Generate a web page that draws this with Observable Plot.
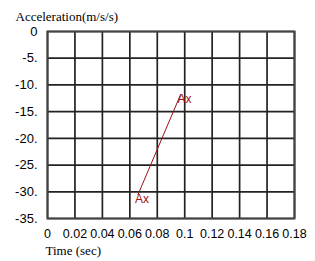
<!DOCTYPE html>
<html>
<head>
<meta charset="utf-8">
<script src="https://cdn.jsdelivr.net/npm/d3@7"></script>
<script src="https://cdn.jsdelivr.net/npm/@observablehq/plot@0.6"></script>
<style>
  html, body { margin: 0; padding: 0; background: #fff; }
</style>
</head>
<body>
<div id="chart"></div>
<script>
const time = [0.066, 0.097];
const accel = [-30.5, -11.8];
const pointLabels = ["Ax", "Ax"];
const xTicks = [0, 0.02, 0.04, 0.06, 0.08, 0.1, 0.12, 0.14, 0.16, 0.18];
const xTickLabels = ["0", "0.02", "0.04", "0.06", "0.08", "0.1", "0.12", "0.14", "0.16", "0.18"];
const yTicks = [0, -5, -10, -15, -20, -25, -30, -35];
const yTickLabels = ["0", "-5.", "-10.", "-15.", "-20.", "-25.", "-30.", "-35."];
const yTitle = "Acceleration(m/s/s)";
const xTitle = "Time (sec)";

const data = time.map((t, i) => ({t, a: accel[i], label: pointLabels[i]}));

const chart = Plot.plot({
  width: 315,
  height: 261,
  marginLeft: 47,
  marginRight: 21,
  marginTop: 31,
  marginBottom: 43,
  style: {fontFamily: "'Liberation Sans', Arial, sans-serif", fontSize: "13px", background: "#fff", color: "#000"},
  x: {domain: [0, 0.18]},
  y: {domain: [-35, 0]},
  marks: [
    Plot.gridX(xTicks, {stroke: "#222", strokeOpacity: 1, strokeWidth: 1.7}),
    Plot.gridY(yTicks, {stroke: "#222", strokeOpacity: 1, strokeWidth: 1.7}),
    Plot.frame({stroke: "#444", strokeWidth: 2}),
    Plot.axisX(xTicks, {tickSize: 0, tickPadding: 11, tickFormat: (d, i) => xTickLabels[i], label: null, fill: "#000", fontSize: 12.5}),
    Plot.axisY(yTicks, {tickSize: 0, tickPadding: 10, tickFormat: (d, i) => yTickLabels[i], label: null, fill: "#000", fontSize: 13}),
    Plot.line(data, {x: "t", y: "a", stroke: "#9b1111", strokeWidth: 1}),
    Plot.text(data, {x: "t", y: "a", text: "label", fill: "#9b1111", fontSize: 12, textAnchor: "start", dx: -3, dy: 5}),
    Plot.text([yTitle], {frameAnchor: "top-left", text: d => d, dx: -32, dy: -20, textAnchor: "start", fontFamily: "'Liberation Serif', 'Times New Roman', serif", fontSize: 13, fill: "#000"}),
    Plot.text([xTitle], {frameAnchor: "bottom-left", text: d => d, dx: -2, dy: 36, textAnchor: "start", fontFamily: "'Liberation Serif', 'Times New Roman', serif", fontSize: 13, fill: "#000"})
  ]
});
document.getElementById("chart").appendChild(chart);
</script>
</body>
</html>
